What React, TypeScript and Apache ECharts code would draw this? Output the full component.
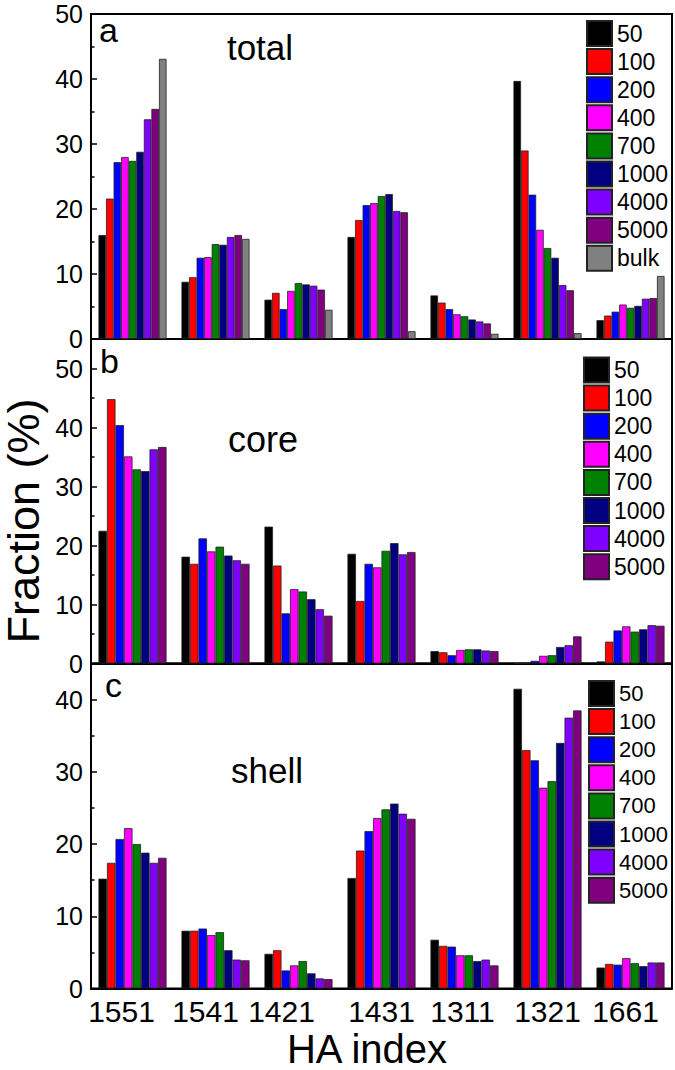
import React, { useEffect, useRef } from "react";
import * as echarts from "echarts";

const categories = ["1551", "1541", "1421", "1431", "1311", "1321", "1661"];
const seriesNames = ["50", "100", "200", "400", "700", "1000", "4000", "5000", "bulk"];
const seriesColors = ["#000000", "#FF0000", "#0000FF", "#FF00FF", "#008000", "#000080", "#8000FF", "#800080", "#808080"];

// panel a: total
const total50 = [16.0, 8.8, 6.05, 15.7, 6.7, 39.7, 2.9];
const total100 = [21.6, 9.5, 7.1, 18.3, 5.6, 29.0, 3.6];
const total200 = [27.2, 12.5, 4.6, 20.6, 4.6, 22.2, 4.2];
const total400 = [28.0, 12.6, 7.4, 20.9, 3.8, 16.8, 5.3];
const total700 = [27.4, 14.6, 8.6, 22.0, 3.5, 14.0, 4.8];
const total1000 = [28.8, 14.5, 8.4, 22.3, 3.0, 12.5, 5.1];
const total4000 = [33.8, 15.7, 8.2, 19.7, 2.7, 8.3, 6.2];
const total5000 = [35.4, 16.0, 7.6, 19.5, 2.4, 7.5, 6.3];
const totalBulk = [43.1, 15.4, 4.5, 1.2, 0.8, 0.9, 9.7];

// panel b: core
const core50 = [22.5, 18.1, 23.2, 18.6, 2.1, 0.05, 0.35];
const core100 = [44.8, 16.9, 16.6, 10.6, 1.9, 0.1, 3.7];
const core200 = [40.4, 21.2, 8.5, 16.9, 1.4, 0.45, 5.6];
const core400 = [35.1, 19.0, 12.6, 16.3, 2.3, 1.3, 6.3];
const core700 = [32.9, 19.8, 12.2, 19.1, 2.4, 1.4, 5.4];
const core1000 = [32.6, 18.3, 10.9, 20.4, 2.4, 2.8, 5.8];
const core4000 = [36.3, 17.5, 9.2, 18.5, 2.2, 3.1, 6.5];
const core5000 = [36.7, 16.9, 8.1, 18.9, 2.1, 4.6, 6.4];

// panel c: shell
const shell50 = [15.2, 8.0, 4.8, 15.3, 6.75, 41.5, 2.9];
const shell100 = [17.4, 8.0, 5.3, 19.1, 5.9, 33.0, 3.4];
const shell200 = [20.7, 8.3, 2.5, 21.8, 5.8, 31.6, 3.3];
const shell400 = [22.2, 7.4, 3.2, 23.6, 4.6, 27.8, 4.2];
const shell700 = [20.0, 7.8, 3.8, 24.8, 4.6, 28.7, 3.5];
const shell1000 = [18.8, 5.3, 2.1, 25.6, 3.8, 34.0, 3.1];
const shell4000 = [17.4, 4.0, 1.4, 24.2, 4.0, 37.5, 3.6];
const shell5000 = [18.1, 3.9, 1.3, 23.5, 3.2, 38.5, 3.6];

const totalData = [total50, total100, total200, total400, total700, total1000, total4000, total5000, totalBulk];
const coreData = [core50, core100, core200, core400, core700, core1000, core4000, core5000];
const shellData = [shell50, shell100, shell200, shell400, shell700, shell1000, shell4000, shell5000];

const yTicksA = { min: 0, max: 50, interval: 10 };
const yTicksB = { min: 0, max: 55, interval: 10 };
const yTicksC = { min: 0, max: 45, interval: 10 };

// style: horizontal shift (px) of category labels
const labelShift = [-11, -10, -17, 0, -2, 0, -5];

const FONT = "Liberation Sans, Arial, Helvetica, sans-serif";

export default function App() {
  const ref = useRef<HTMLDivElement>(null);
  useEffect(() => {
    if (!ref.current) return;
    const chart = echarts.init(ref.current, undefined, { renderer: "svg" });

    const grids = [
      { left: 91, width: 581, top: 14, height: 325 },
      { left: 91, width: 581, top: 339, height: 324.5 },
      { left: 91, width: 581, top: 663.5, height: 325 },
    ].map((g) => ({ ...g, show: true, borderColor: "#000", borderWidth: 2, backgroundColor: "transparent", containLabel: false }));

    const rich: any = {};
    labelShift.forEach((s, i) => {
      rich["s" + i] = {
        fontSize: 30,
        lineHeight: 28,
        fontFamily: FONT,
        color: "#000",
        padding: s < 0 ? [0, -2 * s, 0, 0] : [0, 0, 0, 2 * s],
      };
    });

    const xAxes = [0, 1, 2].map((i) => ({
      type: "category",
      gridIndex: i,
      data: categories,
      axisLine: { show: true, lineStyle: { color: "#000", width: 2 } },
      axisTick: { show: false },
      axisLabel:
        i === 2
          ? {
              show: true,
              interval: 0,
              hideOverlap: false,
              margin: 9,
              lineHeight: 28,
              formatter: (v: string, idx: number) => `{s${idx}|${v}}`,
              rich,
            }
          : { show: false },
      splitLine: { show: false },
    }));

    const yTicks = [yTicksA, yTicksB, yTicksC];
    const yAxes = yTicks.map((t, i) => ({
      type: "value",
      gridIndex: i,
      min: t.min,
      max: t.max,
      interval: t.interval,
      axisLine: { show: true, lineStyle: { color: "#000", width: 2 } },
      axisTick: { show: true, inside: true, length: 6, lineStyle: { color: "#000", width: 1.5 } },
      minorTick: { show: true, splitNumber: 2, length: 3.5, lineStyle: { color: "#000", width: 1.5 } },
      splitLine: { show: false },
      minorSplitLine: { show: false },
      axisLabel: {
        show: true,
        margin: 8,
        fontSize: 25,
        fontFamily: FONT,
        color: "#000",
        formatter: (v: number) => (v % 10 === 0 && v <= t.max ? String(v) : ""),
      },
    }));

    const mk = (data: number[][], gi: number) =>
      data.map((vals, si) => ({
        type: "bar",
        name: seriesNames[si],
        xAxisIndex: gi,
        yAxisIndex: gi,
        data: vals,
        barGap: "0%",
        barCategoryGap: "18%",
        itemStyle: { color: seriesColors[si], borderColor: "#222", borderWidth: 0.8 },
        emphasis: { disabled: true },
      }));

    const series = [...mk(totalData, 0), ...mk(coreData, 1), ...mk(shellData, 2)];

    const legendBase = {
      orient: "vertical",
      itemWidth: 25,
      itemHeight: 25,
      itemGap: 1.1,
      padding: 0,
      icon: "rect",
      selectedMode: false,
      textStyle: { fontSize: 23, fontFamily: FONT, color: "#000", lineHeight: 25, height: 25, padding: 0 },
    };
    const legends = [
      { ...legendBase, left: 586, top: 20, data: seriesNames },
      { ...legendBase, left: 583, top: 356.5, data: seriesNames.slice(0, 8) },
      {
        ...legendBase,
        left: 588,
        top: 680,
        data: seriesNames.slice(0, 8),
        textStyle: { ...legendBase.textStyle, fontSize: 22 },
      },
    ];

    const txt = (text: string, x: number, y: number, size: number, align = "center", rotation = 0, lh?: number) => ({
      type: "text",
      x,
      y,
      rotation,
      z: 100,
      style: {
        text,
        font: `${size}px ${FONT}`,
        fill: "#000",
        textAlign: align,
        textVerticalAlign: "middle",
        ...(lh ? { lineHeight: lh } : {}),
      },
    });

    chart.setOption({
      animation: false,
      backgroundColor: "#fff",
      grid: grids,
      xAxis: xAxes,
      yAxis: yAxes,
      legend: legends,
      series,
      graphic: [
        txt("a", 99, 30, 34, "left"),
        txt("b", 100, 361, 34, "left"),
        txt("c", 105, 685, 34, "left"),
        txt("total", 260, 47, 35),
        txt("core", 263, 439, 36),
        txt("shell", 267, 770, 35),
        txt("HA index", 367, 1049, 40),
        txt("Fraction (%)", 23, 521, 45, "center", Math.PI / 2, 40),
      ],
    });
    return () => chart.dispose();
  }, []);
  return (
    <div
      ref={ref}
      style={{ position: "absolute", left: 0, top: 0, width: 675, height: 1070, background: "#fff" }}
    />
  );
}
